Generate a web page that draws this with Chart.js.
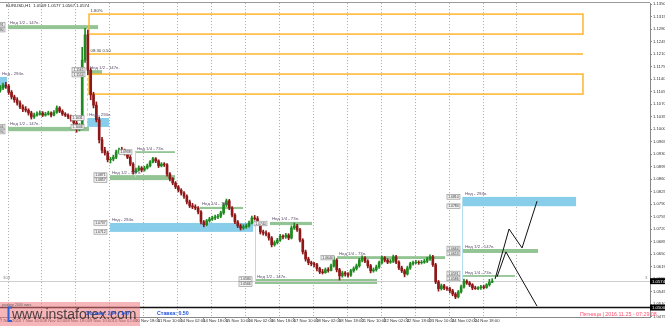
<!DOCTYPE html>
<html><head><meta charset="utf-8">
<script src="https://cdn.jsdelivr.net/npm/chart.js@4.4.0/dist/chart.umd.min.js"></script>
<style>html,body{margin:0;padding:0;background:#fff;overflow:hidden}canvas{display:block}</style>
</head><body>
<canvas id="c" width="665" height="326"></canvas>
<script>
// ---- EURUSD H1 shown as 2-hour candles; x = hours since 7 Nov 2016 00:00 (trading hours only)
const FIRST_BAR = -3, LAST_BAR = 171;
const barTimes = [];
for (let k = FIRST_BAR; k <= LAST_BAR; k++) barTimes.push(2 * k + 0.5);

const opens = [
1.1108,1.1115,1.1123,
1.1120,1.1103,1.1090,1.1082,1.1073,1.1062,1.1056,1.1053,1.1045,1.1034,1.1039,1.1042,
1.1045,1.1039,1.1042,1.1045,1.1039,1.1047,1.1059,1.1050,1.1042,1.1039,1.1034,1.1028,
1.1017,1.1003,1.1009,1.1193,1.1264,1.1165,1.1096,1.1067,1.1026,1.0970,1.0941,1.0933,
1.0914,1.0916,1.0921,1.0936,1.0941,1.0938,1.0933,1.0921,1.0902,1.0880,1.0885,1.0891,
1.0885,1.0891,1.0897,1.0908,1.0917,1.0911,1.0897,1.0902,1.0900,1.0874,1.0861,1.0849,
1.0838,1.0829,1.0821,1.0812,1.0796,1.0785,1.0782,1.0779,1.0768,1.0740,1.0732,1.0743,
1.0748,1.0751,1.0754,1.0756,1.0765,1.0788,1.0799,1.0779,1.0759,1.0740,1.0729,1.0723,
1.0726,1.0729,1.0737,1.0751,1.0749,1.0735,1.0712,1.0709,1.0706,1.0695,1.0676,1.0682,
1.0689,1.0700,1.0698,1.0703,1.0695,1.0723,1.0729,1.0718,1.0689,1.0656,1.0636,1.0626,
1.0623,1.0620,1.0609,1.0600,1.0598,1.0606,1.0604,1.0617,1.0633,1.0606,1.0589,1.0597,
1.0594,1.0591,1.0603,1.0609,1.0617,1.0633,1.0639,1.0630,1.0617,1.0603,1.0606,1.0614,
1.0626,1.0639,1.0633,1.0627,1.0630,1.0642,1.0627,1.0611,1.0603,1.0594,1.0611,1.0623,
1.0626,1.0627,1.0626,1.0627,1.0630,1.0636,1.0642,1.0620,1.0572,1.0553,1.0561,1.0555,
1.0553,1.0547,1.0538,1.0530,1.0544,1.0558,1.0574,1.0569,1.0564,1.0555,1.0553,1.0556,
1.0558,1.0556,1.0564,1.0571];
const highs = [
1.1122,1.1129,1.1131,
1.1125,1.1108,1.1095,1.1088,1.1079,1.1068,1.1063,1.1057,1.1050,1.1045,1.1048,1.1051,
1.1049,1.1047,1.1050,1.1048,1.1052,1.1065,1.1063,1.1054,1.1046,1.1043,1.1039,1.1032,
1.1022,1.1015,1.1229,1.1282,1.1277,1.1171,1.1103,1.1076,1.1034,1.0977,1.0949,1.0938,
1.0921,1.0927,1.0941,1.0947,1.0949,1.0944,1.0938,1.0926,1.0906,1.0891,1.0897,1.0895,
1.0896,1.0902,1.0912,1.0921,1.0920,1.0914,1.0906,1.0906,1.0903,1.0878,1.0864,1.0853,
1.0842,1.0833,1.0825,1.0816,1.0801,1.0792,1.0788,1.0783,1.0772,1.0744,1.0747,1.0753,
1.0756,1.0759,1.0761,1.0770,1.0793,1.0804,1.0803,1.0783,1.0763,1.0744,1.0734,1.0732,
1.0734,1.0742,1.0756,1.0758,1.0755,1.0739,1.0717,1.0715,1.0710,1.0699,1.0687,1.0694,
1.0705,1.0704,1.0708,1.0707,1.0729,1.0737,1.0733,1.0722,1.0693,1.0661,1.0641,1.0630,
1.0627,1.0624,1.0613,1.0607,1.0611,1.0612,1.0622,1.0642,1.0637,1.0610,1.0602,1.0601,
1.0598,1.0607,1.0614,1.0622,1.0638,1.0645,1.0643,1.0634,1.0621,1.0611,1.0619,1.0630,
1.0644,1.0643,1.0637,1.0635,1.0647,1.0646,1.0631,1.0616,1.0607,1.0616,1.0627,1.0630,
1.0632,1.0631,1.0632,1.0635,1.0641,1.0648,1.0646,1.0624,1.0576,1.0566,1.0565,1.0559,
1.0557,1.0551,1.0542,1.0548,1.0563,1.0580,1.0578,1.0573,1.0567,1.0560,1.0559,1.0562,
1.0563,1.0567,1.0579,1.0581];
const lows = [
1.1103,1.1110,1.1114,
1.1097,1.1084,1.1075,1.1067,1.1057,1.1049,1.1048,1.1039,1.1028,1.1030,1.1036,1.1039,
1.1035,1.1036,1.1039,1.1034,1.1037,1.1044,1.1046,1.1038,1.1035,1.1029,1.1022,1.1010,
1.0991,1.0995,1.1000,1.1187,1.1152,1.1082,1.1059,1.1020,1.0961,1.0933,1.0927,1.0908,
1.0905,1.0911,1.0917,1.0931,1.0933,1.0927,1.0917,1.0897,1.0874,1.0877,1.0882,1.0880,
1.0882,1.0888,1.0894,1.0905,1.0906,1.0892,1.0894,1.0895,1.0868,1.0855,1.0844,1.0833,
1.0824,1.0815,1.0806,1.0790,1.0780,1.0777,1.0774,1.0762,1.0734,1.0726,1.0729,1.0739,
1.0744,1.0746,1.0749,1.0752,1.0761,1.0783,1.0774,1.0754,1.0735,1.0724,1.0717,1.0719,
1.0722,1.0725,1.0734,1.0745,1.0730,1.0706,1.0703,1.0701,1.0689,1.0670,1.0672,1.0678,
1.0685,1.0692,1.0694,1.0690,1.0692,1.0719,1.0713,1.0684,1.0650,1.0630,1.0620,1.0617,
1.0614,1.0603,1.0595,1.0594,1.0596,1.0599,1.0603,1.0613,1.0600,1.0577,1.0585,1.0588,
1.0585,1.0587,1.0599,1.0605,1.0613,1.0628,1.0626,1.0611,1.0597,1.0599,1.0602,1.0610,
1.0622,1.0628,1.0623,1.0624,1.0626,1.0623,1.0606,1.0598,1.0586,1.0591,1.0607,1.0619,
1.0622,1.0621,1.0622,1.0624,1.0626,1.0632,1.0615,1.0567,1.0546,1.0549,1.0550,1.0548,
1.0541,1.0533,1.0525,1.0527,1.0540,1.0554,1.0565,1.0559,1.0550,1.0551,1.0550,1.0551,
1.0552,1.0554,1.0560,1.0570];
const closes = [
1.1115,1.1123,1.1120,
1.1103,1.1090,1.1082,1.1073,1.1062,1.1056,1.1053,1.1045,1.1034,1.1039,1.1042,1.1045,
1.1039,1.1042,1.1045,1.1039,1.1047,1.1059,1.1050,1.1042,1.1039,1.1034,1.1028,1.1017,
1.1003,1.1009,1.1193,1.1264,1.1165,1.1096,1.1067,1.1026,1.0970,1.0941,1.0933,1.0914,
1.0916,1.0921,1.0936,1.0941,1.0938,1.0933,1.0921,1.0902,1.0880,1.0885,1.0891,1.0885,
1.0891,1.0897,1.0908,1.0917,1.0911,1.0897,1.0902,1.0900,1.0874,1.0861,1.0849,1.0838,
1.0829,1.0821,1.0812,1.0796,1.0785,1.0782,1.0779,1.0768,1.0740,1.0732,1.0743,1.0748,
1.0751,1.0754,1.0756,1.0765,1.0788,1.0799,1.0779,1.0759,1.0740,1.0729,1.0723,1.0726,
1.0729,1.0737,1.0751,1.0749,1.0735,1.0712,1.0709,1.0706,1.0695,1.0676,1.0682,1.0689,
1.0700,1.0698,1.0703,1.0695,1.0723,1.0729,1.0718,1.0689,1.0656,1.0636,1.0626,1.0623,
1.0620,1.0609,1.0600,1.0598,1.0606,1.0604,1.0617,1.0633,1.0606,1.0589,1.0597,1.0594,
1.0591,1.0603,1.0609,1.0617,1.0633,1.0639,1.0630,1.0617,1.0603,1.0606,1.0614,1.0626,
1.0639,1.0633,1.0627,1.0630,1.0642,1.0627,1.0611,1.0603,1.0594,1.0611,1.0623,1.0626,
1.0627,1.0626,1.0627,1.0630,1.0636,1.0642,1.0620,1.0572,1.0553,1.0561,1.0555,1.0553,
1.0547,1.0538,1.0530,1.0544,1.0558,1.0574,1.0569,1.0564,1.0555,1.0553,1.0556,1.0558,
1.0556,1.0564,1.0571,1.0574];

// ---- axes
const X_MIN = -5.66, X_MAX = 454.1;
const Y_MIN = 1.04736, Y_MAX = 1.13528;
const priceTicks = [1.0475,1.0510,1.0545,1.0580,1.0615,1.0650,1.0685,1.0720,1.0755,1.0790,1.0825,1.0860,1.0895,1.0930,1.0965,1.1000,1.1035,1.1070,1.1105,1.1140,1.1175,1.1210,1.1245,1.1280,1.1315,1.1350];
const timeTickPos = [X_MIN,10,26,42,58,74,90,106,122,138,154,170,186,202,218,234,250,266,282,298,314,330];
const timeTickLabels = ['7 Nov 2016','7 Nov 10:00','8 Nov 02:00','8 Nov 18:00','9 Nov 10:00','10 Nov 02:00','10 Nov 18:00','11 Nov 10:00','14 Nov 02:00','14 Nov 18:00','15 Nov 10:00','16 Nov 02:00','16 Nov 18:00','17 Nov 10:00','18 Nov 02:00','18 Nov 18:00','21 Nov 10:00','22 Nov 02:00','22 Nov 18:00','23 Nov 10:00','24 Nov 02:00','24 Nov 18:00'];
const daySeparators = [0,24,48,72,96,120,144,168,192,216,240,264,288,312,336,360];

// ---- weekly range zones
const zoneFrom  = [0,    56.6,  X_MIN, 0,     55.9,  89.8,  72.1,  135.8, 72.1,  185.3, 174.7, 232.7, 321.8, 321.8, 321.8];
const zoneTo    = [63.7, 66.5,  -0.7,  57.3,  71.4,  118.1, 118.1, 166.2, 173.3, 215.0, 261.0, 309.1, 401.8, 374.9, 358.6];
const zoneHi    = [1.1291,1.1165,1.1146,1.1006,1.1031,1.0938,1.0871,1.0782,1.0737,1.0740,1.0580,1.0644,1.0810,1.0664,1.0591];
const zoneLo    = [1.1280,1.1154,1.1115,1.0994,1.1006,1.0933,1.0857,1.0776,1.0712,1.0731,1.0566,1.0636,1.0784,1.0653,1.0586];
const zoneKind  = ['g','g','b','g','b','g','g','g','b','g','g','g','b','g','g'];
const zoneLabel = ['Нед 1/2 - 147п.','Нед 1/2 - 147п.','Нед - 294п.','Нед 1/2 - 147п.','Нед - 294п.','Нед 1/4 - 73п.','Нед 1/2 - 147п.','Нед 1/4 - 73п.','Нед - 294п.','Нед 1/4 - 73п.','Нед 1/2 - 147п.','Нед 1/4 - 73п.','Нед - 294п.','Нед 1/2 - 147п.','Нед 1/4 - 73п.'];
const zoneTags  = [2,2,0,2,2,1,2,0,2,1,2,1,2,2,2];

const connX  = [55.9, 89.8, 174.7, 321.1];
const connHi = [1.1283, 1.0936, 1.0740, 1.0810];
const connLo = [1.1006, 1.0866, 1.0572, 1.0577];
const connKind = ['b','g','g','b'];

// ---- orange news boxes
const orFrom = 57.3, orTo = 406.7;
const orHi = [1.1322, 1.1210, 1.1154];
const orLo = [1.1266, 1.1210, 1.1098];
const orText = ['1.80%', '08:30 0.50', ''];

// ---- projected paths
const pathAx = [344.5, 354.4, 363.6, 374.2];
const pathAy = [1.0580, 1.0720, 1.0667, 1.0798];
const pathBx = [345.9, 352.2, 374.2];
const pathBy = [1.0586, 1.0656, 1.0504];

const BID = 1.0574, HLINE = 1.0500;

const BULL = '#1f8a1f', BEAR = '#8e1717';
const F = '"Liberation Sans", Arial, sans-serif';

const overlay = {
  id: 'overlay',
  beforeDatasetsDraw(chart) {
    const {ctx, chartArea: a, scales: {x, y}} = chart;
    ctx.save();
    ctx.beginPath(); ctx.rect(a.left, a.top, a.right - a.left, a.bottom - a.top); ctx.clip();
    for (let i = 0; i < zoneFrom.length; i++) {
      const x0 = x.getPixelForValue(zoneFrom[i]), x1 = x.getPixelForValue(zoneTo[i]);
      const y0 = y.getPixelForValue(zoneHi[i]), y1 = y.getPixelForValue(zoneLo[i]);
      ctx.fillStyle = zoneKind[i] === 'b' ? '#88cdea' : '#93c493';
      ctx.fillRect(x0, y0, x1 - x0, Math.max(1.5, y1 - y0));
    }
    ctx.lineWidth = 1;
    for (let i = 0; i < connX.length; i++) {
      const px = Math.round(x.getPixelForValue(connX[i])) + 0.5;
      ctx.strokeStyle = connKind[i] === 'b' ? '#b3def2' : '#bfe0bf';
      ctx.setLineDash(i === 0 ? [3, 2] : []);
      ctx.beginPath(); ctx.moveTo(px, y.getPixelForValue(connHi[i])); ctx.lineTo(px, y.getPixelForValue(connLo[i])); ctx.stroke();
    }
    ctx.setLineDash([]);
    // bid line and horizontal level
    let py = Math.round(y.getPixelForValue(BID)) + 0.5;
    ctx.strokeStyle = '#cfcfcf'; ctx.lineWidth = 1;
    ctx.beginPath(); ctx.moveTo(a.left, py); ctx.lineTo(a.right, py); ctx.stroke();
    py = y.getPixelForValue(HLINE);
    ctx.strokeStyle = '#111'; ctx.lineWidth = 1.5;
    ctx.beginPath(); ctx.moveTo(a.left, py); ctx.lineTo(a.right, py); ctx.stroke();
    // orange boxes
    ctx.strokeStyle = '#ffb52e'; ctx.lineWidth = 1.5;
    const ox0 = x.getPixelForValue(orFrom), ox1 = x.getPixelForValue(orTo);
    for (let i = 0; i < orHi.length; i++) {
      const y0 = y.getPixelForValue(orHi[i]), y1 = y.getPixelForValue(orLo[i]);
      if (orHi[i] === orLo[i]) { ctx.beginPath(); ctx.moveTo(ox0, y0); ctx.lineTo(ox1, y0); ctx.stroke(); }
      else ctx.strokeRect(ox0, y0, ox1 - ox0, y1 - y0);
    }
    ctx.restore();
  },
  afterDatasetsDraw(chart) {
    const {ctx, chartArea: a, scales: {x, y}} = chart;
    ctx.save();
    ctx.beginPath(); ctx.rect(a.left, a.top, a.right - a.left, a.bottom - a.top); ctx.clip();
    ctx.textBaseline = 'alphabetic';
    for (let i = 0; i < zoneFrom.length; i++) {
      const x0 = x.getPixelForValue(zoneFrom[i]);
      const y0 = y.getPixelForValue(zoneHi[i]), y1 = y.getPixelForValue(zoneLo[i]);
      ctx.font = '4.3px ' + F; ctx.fillStyle = '#5b4a6b'; ctx.textAlign = 'left';
      ctx.fillText(zoneLabel[i], x0 + 2, y0 - 1.5);
      const xr = x0 - 3;
      if (zoneTags[i] === 2) {
        const mid = (y0 + y1) / 2;
        drawTag(ctx, xr, Math.min(y0, mid - 2.5), zoneHi[i]);
        drawTag(ctx, xr, Math.max(y1, mid + 2.5), zoneLo[i]);
      } else if (zoneTags[i] === 1) {
        drawTag(ctx, xr, (y0 + y1) / 2, zoneHi[i]);
      }
    }
    ctx.font = '4.3px ' + F; ctx.fillStyle = '#444'; ctx.textAlign = 'left';
    const ox0 = x.getPixelForValue(orFrom);
    for (let i = 0; i < orHi.length; i++) {
      if (orText[i]) ctx.fillText(orText[i], ox0 + 1.5, y.getPixelForValue(orHi[i]) - 2);
    }
    ctx.restore();
  },
  afterDraw(chart) {
    const {ctx, chartArea: a, scales: {y}} = chart;
    ctx.save();
    // top frame
    ctx.strokeStyle = '#9a9a9a'; ctx.lineWidth = 1;
    ctx.beginPath(); ctx.moveTo(0, 2.5); ctx.lineTo(a.right, 2.5); ctx.stroke();
    // header
    ctx.font = '4.3px ' + F; ctx.fillStyle = '#222'; ctx.textAlign = 'left'; ctx.textBaseline = 'middle';
    ctx.fillText('EURUSD,H1  1.0569 1.0577 1.0567 1.0574', 6, 6);
    ctx.fillStyle = '#888';
    ctx.fillText('303', 3, 278);
    ctx.fillText('3', 645, 278);
    // axis price boxes
    [BID, HLINE].forEach(p => {
      const py = y.getPixelForValue(p);
      ctx.fillStyle = '#000'; ctx.fillRect(a.right, py - 3, 15, 6);
      ctx.fillStyle = '#fff'; ctx.font = '4.3px ' + F; ctx.textAlign = 'left'; ctx.textBaseline = 'middle';
      ctx.fillText(p.toFixed(4), a.right + 2, py + 0.3);
    });
    // watermark
    ctx.fillStyle = 'rgba(238,120,125,0.55)';
    ctx.fillRect(0, 302, 140, 24);
    ctx.fillStyle = '#666'; ctx.font = '3.6px ' + F; ctx.textAlign = 'left'; ctx.textBaseline = 'middle';
    ctx.fillText('размер 2000 пикс', 2, 305);
    ctx.strokeStyle = '#2e63d6'; ctx.lineWidth = 2;
    ctx.beginPath(); ctx.moveTo(12, 307.5); ctx.lineTo(8.5, 307.5); ctx.lineTo(8.5, 321); ctx.lineTo(12, 321); ctx.stroke();
    ctx.fillStyle = 'rgba(35,35,35,0.8)'; ctx.font = '14px ' + F; ctx.textBaseline = 'alphabetic';
    ctx.fillText('www.instaforex.com', 12, 319);
    ctx.fillStyle = '#2255dd'; ctx.font = 'bold 5.3px ' + F; ctx.textBaseline = 'middle';
    ctx.fillText('Форекс: 294 / 147', 85, 314);
    ctx.fillText('Ставка: 0.50', 157, 314);
    ctx.fillStyle = '#ff4f6e'; ctx.font = '5.3px ' + F;
    ctx.fillText('Пятница | 2016.11.25 - 07:29:08', 580, 314.5);
    ctx.restore();
  }
};

function drawTag(ctx, xr, yc, price) {
  const w = 13, h = 4.6;
  ctx.fillStyle = '#f2f2f2'; ctx.fillRect(xr - w, yc - h / 2, w, h);
  ctx.strokeStyle = '#8a8a8a'; ctx.lineWidth = 0.6; ctx.strokeRect(xr - w, yc - h / 2, w, h);
  ctx.fillStyle = '#333'; ctx.font = '3.4px ' + F; ctx.textAlign = 'center'; ctx.textBaseline = 'middle';
  ctx.fillText(price.toFixed(4), xr - w / 2, yc + 0.2);
  ctx.textAlign = 'left'; ctx.textBaseline = 'alphabetic';
}

const candleColor = c => (closes[c.dataIndex] >= opens[c.dataIndex] ? BULL : BEAR);

new Chart(document.getElementById('c'), {
  type: 'bar',
  data: {
    datasets: [
      { label: 'wick', data: barTimes.map((t, i) => ({x: t, y: [lows[i], highs[i]]})),
        backgroundColor: candleColor, barThickness: 1, grouped: false, borderWidth: 0, order: 3, xAxisID: 'x', yAxisID: 'y' },
      { label: 'body', data: barTimes.map((t, i) => ({x: t, y: [opens[i], closes[i]]})),
        backgroundColor: candleColor, barThickness: 2, grouped: false, borderWidth: 0, order: 2, xAxisID: 'x', yAxisID: 'y' },
      { type: 'line', label: 'pathA', data: pathAx.map((v, i) => ({x: v, y: pathAy[i]})),
        borderColor: '#111', borderWidth: 1, pointRadius: 0, tension: 0, order: 1, xAxisID: 'x', yAxisID: 'y' },
      { type: 'line', label: 'pathB', data: pathBx.map((v, i) => ({x: v, y: pathBy[i]})),
        borderColor: '#111', borderWidth: 1, pointRadius: 0, tension: 0, order: 1, xAxisID: 'x', yAxisID: 'y' }
    ]
  },
  options: {
    responsive: false, animation: false, devicePixelRatio: 1,
    layout: { padding: { top: 3, left: 0, right: 0, bottom: 0 } },
    plugins: { legend: { display: false }, tooltip: { enabled: false } },
    scales: {
      x: {
        type: 'linear', min: X_MIN, max: X_MAX, offset: false, position: 'bottom',
        afterBuildTicks: s => { s.ticks = timeTickPos.map(v => ({value: v})); },
        afterFit: s => { s.height = 9; },
        ticks: { autoSkip: false, maxRotation: 0, minRotation: 0, align: 'start', padding: 0,
          font: { size: 4.2, family: F, lineHeight: 1 }, color: '#333',
          callback: (v, i) => timeTickLabels[i] },
        grid: { offset: false, drawOnChartArea: false, drawTicks: true, tickLength: 2, color: '#888' },
        border: { display: true, color: '#888' }
      },
      xd: {
        type: 'linear', min: X_MIN, max: X_MAX, offset: false, position: 'bottom',
        afterBuildTicks: s => { s.ticks = daySeparators.map(v => ({value: v})); },
        afterFit: s => { s.height = 0; },
        ticks: { display: false },
        grid: { offset: false, drawOnChartArea: true, drawTicks: false, color: '#a9a9a9', lineWidth: 1 },
        border: { display: false, dash: [1, 2] }
      },
      y: {
        type: 'linear', position: 'right', min: Y_MIN, max: Y_MAX, beginAtZero: false,
        afterBuildTicks: s => { s.ticks = priceTicks.map(v => ({value: v})); },
        afterFit: s => { s.width = 15; },
        ticks: { padding: 1, font: { size: 4.2, family: F, lineHeight: 1 }, color: '#333',
          callback: v => Number(v).toFixed(4) },
        grid: { drawOnChartArea: false, drawTicks: true, tickLength: 2, color: '#888' },
        border: { display: true, color: '#888' }
      }
    }
  },
  plugins: [overlay]
});
</script>
</body></html>
